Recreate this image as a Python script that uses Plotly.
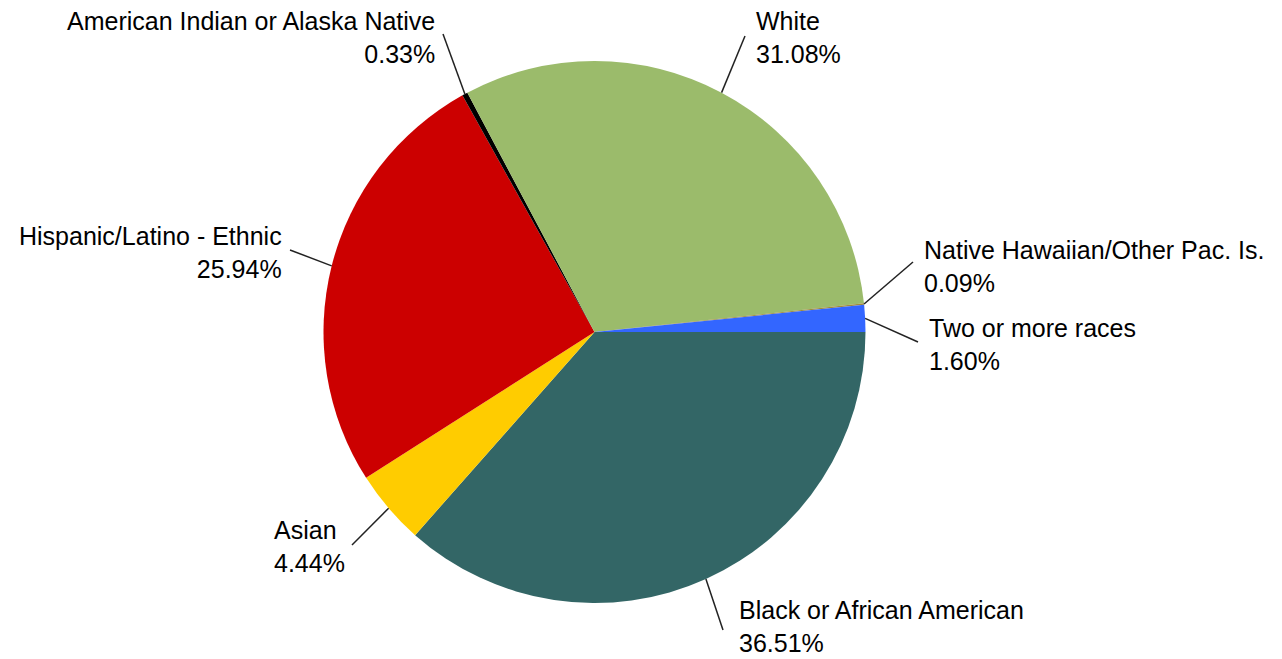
import math
import plotly.graph_objects as go

# Enrollment share by race / ethnicity (percent)
categories = [
    "Black or African American",
    "Asian",
    "Hispanic/Latino - Ethnic",
    "American Indian or Alaska Native",
    "White",
    "Native Hawaiian/Other Pac. Is.",
    "Two or more races",
]
shares = [36.51, 4.44, 25.94, 0.33, 31.08, 0.09, 1.60]
colors = ["#336666", "#FFCC00", "#CC0000", "#000000", "#9BBB6B", "#A08C3C", "#3366FF"]

W, H = 1282, 659
CX, CY, R = 594.5, 332.0, 271.0  # pie centre and radius in pixels


def px(x):
    return x / W


def py(y):
    return 1 - y / H


# label layout: (text x, text y centre, anchor, leader outer end x, y)
label_layout = [
    (737, 626, "left", 723, 630),
    (272, 546, "left", 352, 545),
    (284, 252, "right", 290, 250),
    (437, 37, "right", 443, 34),
    (754, 37, "left", 745, 36),
    (922, 266, "left", 913, 262),
    (927, 344, "left", 918, 342),
]

fig = go.Figure(
    go.Pie(
        labels=categories,
        values=shares,
        marker=dict(colors=colors, line=dict(width=0)),
        sort=False,
        direction="clockwise",
        rotation=90,
        textinfo="none",
        hoverinfo="label+percent",
        showlegend=False,
        domain=dict(x=[px(CX - R), px(CX + R)], y=[py(CY + R), py(CY - R)]),
    )
)

total = sum(shares)
cum = 0.0
shapes = []
annotations = []
for name, val, (tx, ty, anchor, lx, ly) in zip(categories, shares, label_layout):
    mid = (cum + val / 2) / total
    cum += val
    ang = -2 * math.pi * mid  # clockwise from 3 o'clock
    ex = CX + R * math.cos(ang)
    ey = CY - R * math.sin(ang)
    shapes.append(dict(
        type="line", xref="paper", yref="paper",
        x0=px(ex), y0=py(ey), x1=px(lx), y1=py(ly),
        line=dict(color="#222222", width=1.5),
    ))
    annotations.append(dict(
        xref="paper", yref="paper", x=px(tx), y=py(ty),
        xanchor=anchor, yanchor="middle", align=anchor,
        text=f"{name}<br>{val:.2f}%", showarrow=False,
        font=dict(family="Liberation Sans, Arial, sans-serif", size=25, color="#000000"),
    ))

fig.update_layout(
    width=W, height=H,
    margin=dict(l=0, r=0, t=0, b=0),
    paper_bgcolor="white", plot_bgcolor="white",
    shapes=shapes, annotations=annotations,
)

fig.write_html("out.html", config={"displayModeBar": False})
